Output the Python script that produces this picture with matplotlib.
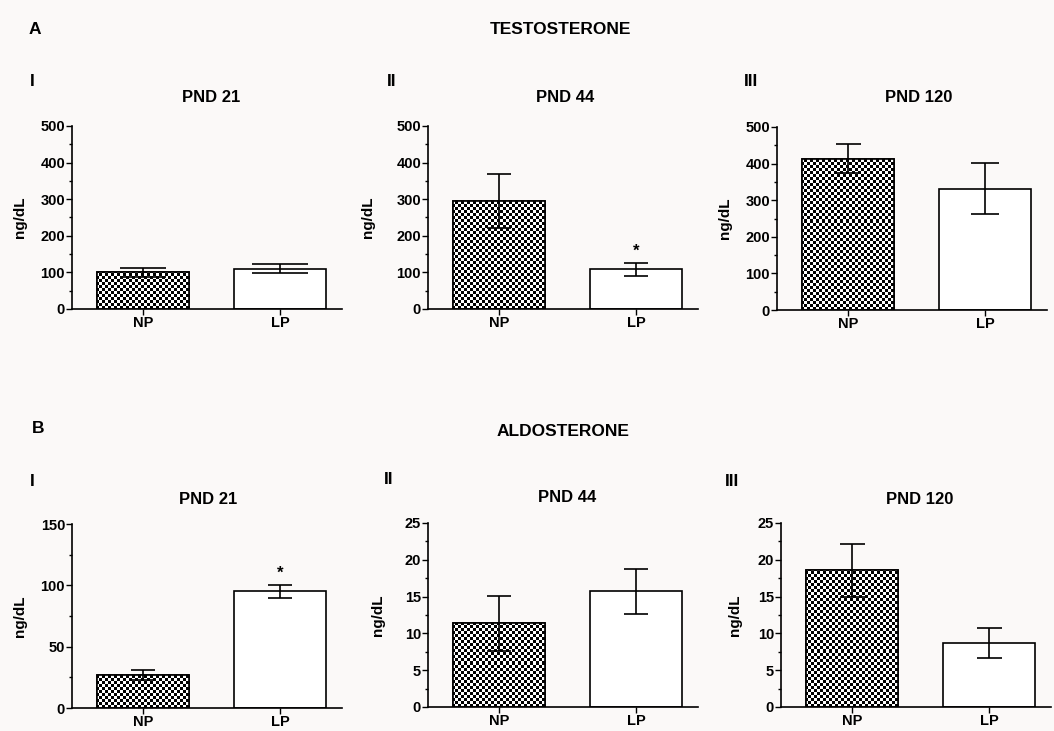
import numpy as np
import matplotlib
matplotlib.use("Agg")
import matplotlib.pyplot as plt
from matplotlib.ticker import MultipleLocator

plt.rcParams['font.family'] = ['Liberation Sans', 'DejaVu Sans']
plt.rcParams['font.weight'] = 'bold'

groups = ["NP", "LP"]
hormones = ["TESTOSTERONE", "ALDOSTERONE"]
row_letters = ["A", "B"]
panel_numerals = ["I", "II", "III"]
panel_titles = ["PND 21", "PND 44", "PND 120"]

testo_mean = [[100, 110], [295, 108], [413, 331]]
testo_err = [[12, 12], [74, 17], [40, 70]]
testo_star = [False, True, False]

aldo_mean = [[26.7, 95.0], [11.35, 15.7], [18.55, 8.7]]
aldo_err = [[4.0, 5.0], [3.7, 3.05], [3.65, 2.1]]
aldo_star = [True, False, False]

ylims = [[500, 500, 500], [150, 25, 25]]
major = [[100, 100, 100], [50, 5, 5]]
minor = [[50, 50, 50], [25, 2.5, 2.5]]
capsizes = [[[16.5, 20.5], [8.5, 8.5], [9, 10]], [[8.5, 8.5], [8.5, 8.5], [9, 9]]]

W, H = 1054, 731
bg = '#fbf9f8'
fig = plt.figure(figsize=(W / 100, H / 100), dpi=100, facecolor=bg)

# axes boxes in pixels: left, top, right, bottom
boxes = [
    [(72, 126, 342, 309), (428, 126, 698, 309), (777, 127, 1047, 310)],
    [(72, 524, 342, 708), (428, 523, 698, 707), (781, 523, 1051, 707)],
]
ylabel_x = [[27, 375, 732], [27, 385, 742]]
title_pos = [[(211, 98), (565, 98), (919, 98)], [(208, 500), (567, 498), (920, 499)]]
num_pos = [[(30, 82), (387, 82), (744, 82)], [(30, 481), (384, 480), (725, 481)]]

means = [testo_mean, aldo_mean]
errs = [testo_err, aldo_err]
stars = [testo_star, aldo_star]

def checker(ny, nx):
    yy, xx = np.mgrid[0:ny, 0:nx]
    return ((yy + xx) % 2).astype(float)

for r in range(2):
    for c in range(3):
        l, t, rr, b = boxes[r][c]
        ax = fig.add_axes([l / W, 1 - b / H, (rr - l) / W, (b - t) / H])
        ax.set_facecolor(bg)
        x = np.arange(len(groups))
        bars = ax.bar(x, means[r][c], width=0.67, color=['white', 'white'],
                      edgecolor='black', linewidth=1.2, zorder=2)
        ax.set_xlim(-0.52, 1.45)
        ax.set_ylim(0, ylims[r][c])
        # checkerboard texture for NP bar
        pw, ph = rr - l, b - t
        img = checker(int(ph / 3), int(pw / 3))
        im = ax.imshow(img, cmap='gray', extent=(0, 1, 0, 1), transform=ax.transAxes,
                       interpolation='nearest', aspect='auto', zorder=2.5)
        im.set_clip_path(bars[0])
        ax.bar(x[:1], means[r][c][:1], width=0.67, color='none',
               edgecolor='black', linewidth=1.2, zorder=3)
        for i in range(len(groups)):
            ax.errorbar(x[i], means[r][c][i], yerr=errs[r][c][i], fmt='none', ecolor='black',
                        elinewidth=1.2, capsize=capsizes[r][c][i], capthick=1.2, zorder=4)
        if stars[r][c]:
            i = 1
            ax.text(x[i], means[r][c][i] + errs[r][c][i] + ylims[r][c] * 0.025, '*',
                    ha='center', va='bottom', fontsize=12, fontweight='bold')
        ax.yaxis.set_major_locator(MultipleLocator(major[r][c]))
        ax.yaxis.set_minor_locator(MultipleLocator(minor[r][c]))
        ax.set_xticks(x)
        ax.set_xticklabels(groups, fontsize=10.5, fontweight='bold')
        for s in ['top', 'right']:
            ax.spines[s].set_visible(False)
        for s in ['left', 'bottom']:
            ax.spines[s].set_linewidth(1.2)
        ax.tick_params(axis='y', which='major', length=4, width=1.0, labelsize=10.5, pad=1)
        ax.tick_params(axis='y', which='minor', length=2.5, width=1.0)
        ax.tick_params(axis='x', which='major', length=4, width=1.0, pad=1)
        for lab in ax.get_yticklabels():
            lab.set_fontweight('bold')
        ax.set_ylabel('ng/dL', fontsize=11, fontweight='bold')
        ax.yaxis.set_label_coords((ylabel_x[r][c] - l) / (rr - l), 0.5)
        tx, ty = title_pos[r][c]
        fig.text(tx / W, 1 - ty / H, panel_titles[c], fontsize=12, fontweight='bold',
                 ha='center', va='center')
        px, py = num_pos[r][c]
        fig.text(px / W, 1 - py / H, panel_numerals[c], fontsize=12.5,
                 fontweight='bold', ha='left', va='center')

fig.text(29 / W, 1 - 29 / H, row_letters[0], fontsize=12.5, fontweight='bold', va='center')
fig.text(560 / W, 1 - 29 / H, hormones[0], fontsize=12.5, fontweight='bold', ha='center', va='center')
fig.text(32 / W, 1 - 428 / H, row_letters[1], fontsize=12.5, fontweight='bold', va='center')
fig.text(563 / W, 1 - 432 / H, hormones[1], fontsize=12.5, fontweight='bold', ha='center', va='center')

fig.savefig('out.png', dpi=100, facecolor=bg)
